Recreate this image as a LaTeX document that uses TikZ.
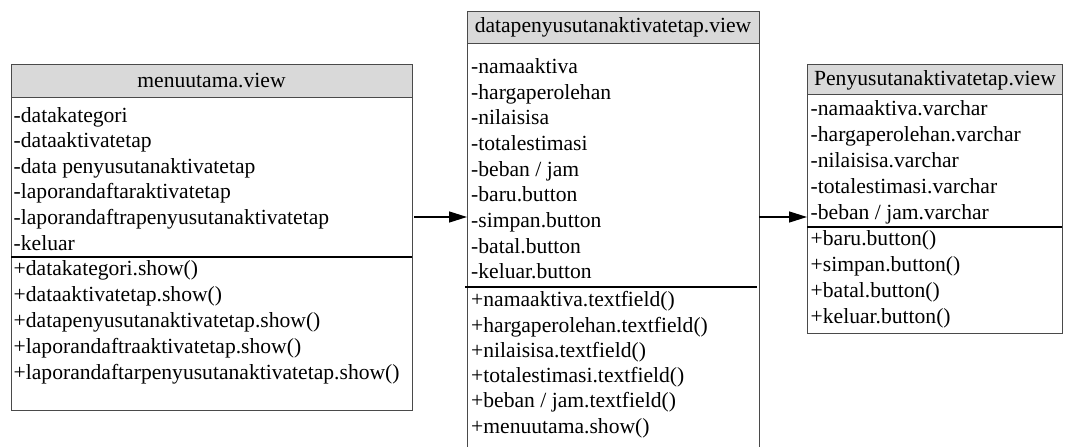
\documentclass[tikz,border=0pt]{standalone}
\usepackage{fontspec}
\setmainfont{Liberation Serif}
\usetikzlibrary{arrows.meta}
\definecolor{hdr}{HTML}{D9D9D9}
\definecolor{bord}{HTML}{4A4A4A}
\begin{document}
\begin{tikzpicture}[x=1pt,y=-1pt,
  box/.style={draw=bord,line width=1pt,inner sep=0pt,anchor=north west},
  hdrbox/.style={draw=bord,fill=hdr,line width=1pt,inner sep=0pt,anchor=north west},
  ttl/.style={inner sep=0pt,font=\fontsize{21.6}{25}\selectfont},
  item/.style={inner sep=0pt,anchor=west,text height=15pt,text depth=5pt,font=\fontsize{21.6}{25}\selectfont},
  sep/.style={line width=1.6pt,black},
  arr/.style={line width=1.4pt,-{Triangle[length=18pt,width=11pt]}}]
\useasboundingbox (0,0) rectangle (1069,447);
% ---------- left class
\node[box,minimum width=401pt,minimum height=346pt] (L) at (11,64) {};
\node[hdrbox,minimum width=401pt,minimum height=33pt] (Lh) at (11,64) {};
\node[ttl] (Lt) at (211.5,80.5) {menuutama.view};
\draw[sep] (11,257) coordinate (Ls1) -- (412,257) coordinate (Ls2);
\foreach \t [count=\i] in {-datakategori,-dataaktivatetap,-data penyusutanaktivatetap,-laporandaftaraktivatetap,-laporandaftrapenyusutanaktivatetap,-keluar}
  \node[item] (La\i) at (13.5,{117+25.6*(\i-1)}) {\t};
\foreach \t [count=\i] in {+datakategori.show(),+dataaktivatetap.show(),+datapenyusutanaktivatetap.show(),+laporandaftraaktivatetap.show(),+laporandaftarpenyusutanaktivatetap.show()}
  \node[item] (Lm\i) at (13.5,{270.5+25.9*(\i-1)}) {\t};
% ---------- middle class (open at the bottom)
\node[inner sep=0pt,anchor=north west,minimum width=292pt,minimum height=440pt] (M) at (467,11) {};
\draw[bord,line width=1pt] (M.south west) -- (M.north west) -- (M.north east) -- (M.south east);
\node[hdrbox,minimum width=292pt,minimum height=32pt] (Mh) at (467,11) {};
\node[ttl] (Mt) at (613,27.5) {datapenyusutanaktivatetap.view};
\draw[sep] (465,287) coordinate (Ms1) -- (757,287) coordinate (Ms2);
\foreach \t [count=\i] in {-namaaktiva,-hargaperolehan,-nilaisisa,-totalestimasi,-beban / jam,-baru.button,-simpan.button,-batal.button,-keluar.button}
  \node[item] (Ma\i) at (471,{68.3+25.7*(\i-1)}) {\t};
\foreach \t [count=\i] in {+namaaktiva.textfield(),+hargaperolehan.textfield(),+nilaisisa.textfield(),+totalestimasi.textfield(),+beban / jam.textfield(),+menuutama.show()}
  \node[item] (Mm\i) at (471,{301.7+25.3*(\i-1)}) {\t};
% ---------- right class
\node[box,minimum width=255pt,minimum height=269pt] (R) at (807,64) {};
\node[hdrbox,minimum width=255pt,minimum height=30pt] (Rh) at (807,64) {};
\node[ttl] (Rt) at (935,80) {Penyusutanaktivatetap.view};
\draw[sep] (807,227) coordinate (Rs1) -- (1062,227) coordinate (Rs2);
\foreach \t [count=\i] in {-namaaktiva.varchar,-hargaperolehan.varchar,-nilaisisa.varchar,-totalestimasi.varchar,-beban / jam.varchar}
  \node[item] (Ra\i) at (810.5,{110+26.1*(\i-1)}) {\t};
\foreach \t [count=\i] in {+baru.button(),+simpan.button(),+batal.button(),+keluar.button()}
  \node[item] (Rm\i) at (810.5,{240+26.1*(\i-1)}) {\t};
% ---------- connectors
\coordinate (A1s) at (414,217);
\draw[arr] (A1s) -- (M.west |- A1s);
\draw[arr] (M.east |- A1s) -- (R.west |- A1s);
\end{tikzpicture}
\end{document}
